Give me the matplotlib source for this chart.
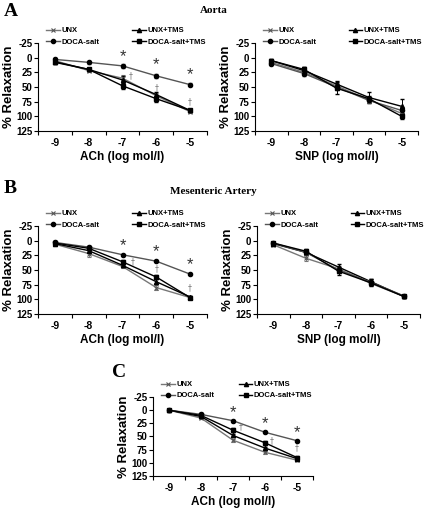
import numpy as np
import matplotlib
matplotlib.use("Agg")
import matplotlib.pyplot as plt
from matplotlib.ticker import MultipleLocator

plt.rcParams['font.family'] = ['Liberation Sans', 'DejaVu Sans']
plt.rcParams['font.weight'] = 'bold'
plt.rcParams['axes.unicode_minus'] = False

conc = [-9, -8, -7, -6, -5]
groups = ['UNX', 'UNX+TMS', 'DOCA-salt', 'DOCA-salt+TMS']

# panel A, aorta
a_ach = {
    'UNX': [5, 22, 35, 65, 92],
    'UNX+TMS': [7, 20, 38, 63, 90],
    'DOCA-salt': [3, 8, 14, 31, 46],
    'DOCA-salt+TMS': [8, 20, 48, 70, 90],
}
a_ach_err = {
    'UNX': [2, 3, 5, 4, 3],
    'UNX+TMS': [2, 3, 6, 4, 3],
    'DOCA-salt': [2, 3, 3, 4, 2],
    'DOCA-salt+TMS': [2, 3, 5, 5, 3],
}
a_snp = {
    'UNX': [8, 25, 48, 72, 95],
    'UNX+TMS': [5, 22, 45, 68, 83],
    'DOCA-salt': [10, 27, 50, 73, 90],
    'DOCA-salt+TMS': [5, 20, 52, 70, 100],
}
a_snp_err = {
    'UNX': [3, 4, 5, 5, 5],
    'UNX+TMS': [3, 6, 6, 10, 13],
    'DOCA-salt': [3, 4, 5, 5, 5],
    'DOCA-salt+TMS': [3, 4, 10, 5, 5],
}

# panel B, mesenteric artery
b_ach = {
    'UNX': [6, 22, 44, 80, 97],
    'UNX+TMS': [5, 17, 42, 70, 96],
    'DOCA-salt': [3, 11, 24, 35, 57],
    'DOCA-salt+TMS': [4, 13, 36, 62, 97],
}
b_ach_err = {
    'UNX': [2, 5, 3, 4, 2],
    'UNX+TMS': [2, 3, 3, 4, 2],
    'DOCA-salt': [2, 2, 2, 2, 2],
    'DOCA-salt+TMS': [2, 2, 3, 4, 2],
}
b_snp = {
    'UNX': [7, 30, 48, 73, 95],
    'UNX+TMS': [5, 20, 45, 70, 95],
    'DOCA-salt': [4, 20, 50, 71, 94],
    'DOCA-salt+TMS': [4, 18, 52, 72, 95],
}
b_snp_err = {
    'UNX': [2, 5, 5, 5, 2],
    'UNX+TMS': [2, 4, 6, 5, 2],
    'DOCA-salt': [2, 4, 5, 5, 2],
    'DOCA-salt+TMS': [2, 4, 6, 6, 2],
}

# panel C
c_ach = {
    'UNX': [0, 15, 57, 80, 95],
    'UNX+TMS': [0, 12, 48, 72, 92],
    'DOCA-salt': [0, 8, 20, 42, 58],
    'DOCA-salt+TMS': [0, 10, 38, 62, 90],
}
c_ach_err = {
    'UNX': [1, 2, 3, 3, 2],
    'UNX+TMS': [1, 2, 3, 3, 2],
    'DOCA-salt': [1, 2, 2, 2, 2],
    'DOCA-salt+TMS': [1, 2, 4, 4, 3],
}

style = {
    'UNX': dict(color='#777777', marker='x', ms=3, mec='#555555', mew=0.8),
    'UNX+TMS': dict(color='black', marker='^', ms=3),
    'DOCA-salt': dict(color='#555555', marker='o', ms=3, mfc='black', mec='black'),
    'DOCA-salt+TMS': dict(color='black', marker='s', ms=3),
}

fig = plt.figure(figsize=(4.27, 5.08), dpi=100)


def px_axes(x0, x1, ytop, ybot):
    return fig.add_axes([x0 / 427, 1 - ybot / 508, (x1 - x0) / 427, (ybot - ytop) / 508])


def panel(ax, data, err, xlabel, colsp=4.2):
    handles = {}
    for g in groups:
        st = style[g]
        cont = ax.errorbar(conc, data[g], yerr=err[g], lw=1, capsize=1.5, elinewidth=0.7,
                           ecolor=st['color'], **st)
        handles[g] = cont[0]
    ax.set_xlim(-9.5, -4.5)
    ax.set_ylim(125, -25)
    ax.set_yticks(np.arange(-25, 126, 25))
    ax.xaxis.set_minor_locator(MultipleLocator(0.5))
    ax.set_xticks(conc)
    for s in ['top', 'right']:
        ax.spines[s].set_visible(False)
    ax.tick_params(axis='both', which='both', direction='out', length=3, width=0.8)
    ax.tick_params(axis='x', which='major', length=0, labelsize=7.5, pad=5)
    ax.tick_params(axis='y', labelsize=7, pad=1)
    ax.set_xlabel(xlabel, fontsize=8.5, fontweight='bold', labelpad=2)
    ax.set_ylabel('% Relaxation', fontsize=9.5, fontweight='bold', labelpad=1)
    order = ['UNX', 'DOCA-salt', 'UNX+TMS', 'DOCA-salt+TMS']
    ax.legend([handles[g] for g in order], order, ncol=2, loc='lower left',
              bbox_to_anchor=(0.05, 0.97), frameon=False, fontsize=5.5,
              handlelength=1.8, handletextpad=0.2, columnspacing=colsp,
              labelspacing=0.5, borderpad=0, borderaxespad=0)
    return ax


def marks(ax, stars, daggers):
    for x, y in stars:
        ax.text(x, y, '*', fontsize=12, ha='center', va='center', color='#333333',
                fontweight='normal')
    for x, y in daggers:
        ax.text(x, y, '\u2020', fontsize=5.5, ha='center', va='center', color='#777777',
                fontweight='normal', family='DejaVu Sans')


ax1 = panel(px_axes(38, 207, 43, 131), a_ach, a_ach_err, 'ACh (log mol/l)')
marks(ax1, [(-7, -2), (-6, 12), (-5, 29)], [(-6.75, 30), (-6, 52), (-5, 75)])
ax2 = panel(px_axes(255, 418, 43, 131), a_snp, a_snp_err, 'SNP (log mol/l)')

ax3 = panel(px_axes(38, 207, 226, 314), b_ach, b_ach_err, 'ACh (log mol/l)')
marks(ax3, [(-7, 8), (-6, 19), (-5, 40)], [(-6.7, 36), (-6, 48), (-5, 80)])
ax4 = panel(px_axes(257, 420, 226, 314), b_snp, b_snp_err, 'SNP (log mol/l)')

ax5 = panel(px_axes(153, 313, 397, 476), c_ach, c_ach_err, 'ACh (log mol/l)', colsp=3.2)
marks(ax5, [(-7, 5), (-6, 25), (-5, 42)], [(-6.75, 32), (-5.8, 58), (-5, 72)])

fig.text(0.008, 0.978, 'A', fontsize=14, fontweight='bold', family='Liberation Serif',
         va='center', ha='left')
fig.text(0.5, 0.98, 'Aorta', fontsize=8, fontweight='bold', family='Liberation Serif',
         va='center', ha='center')
fig.text(0.008, 0.628, 'B', fontsize=14, fontweight='bold', family='Liberation Serif',
         va='center', ha='left')
fig.text(0.5, 0.624, 'Mesenteric Artery', fontsize=8, fontweight='bold',
         family='Liberation Serif', va='center', ha='center')
fig.text(0.262, 0.266, 'C', fontsize=14, fontweight='bold', family='Liberation Serif',
         va='center', ha='left')

fig.savefig('out.png', dpi=100)
